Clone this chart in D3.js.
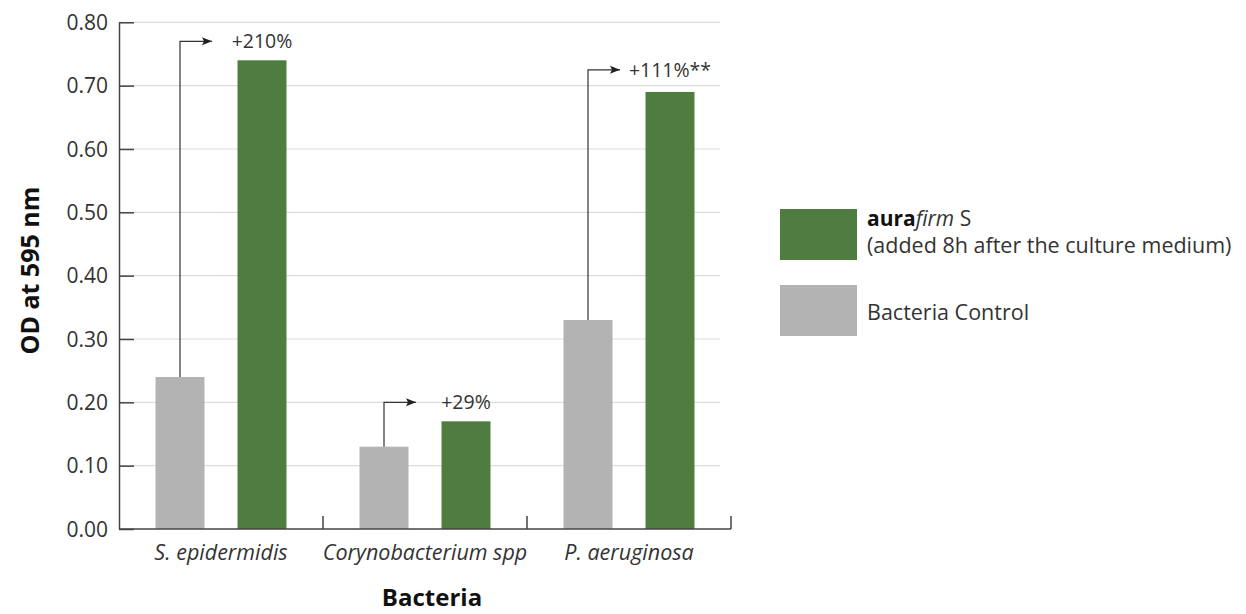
<!DOCTYPE html>
<html><head><meta charset="utf-8">
<script src="https://cdn.jsdelivr.net/npm/d3@7"></script>
<style>body{margin:0;background:#fff;} text{font-family:"Open Sans",sans-serif;}</style>
</head><body>
<svg id="c" width="1246" height="614"></svg>
<script>
const categories = ["S. epidermidis", "Corynobacterium spp", "P. aeruginosa"];
const controlValues = [0.24, 0.13, 0.33];
const aurafirmValues = [0.74, 0.17, 0.69];
const increaseLabels = ["+210%", "+29%", "+111%**"];
const arrowLevels = [0.77, 0.20, 0.725];
const yTicks = [0, 0.1, 0.2, 0.3, 0.4, 0.5, 0.6, 0.7, 0.8];

const svg = d3.select("#c");
const x0 = 119, x1 = 731, yTop = 22.3, yBot = 529;
const x = d3.scaleBand().domain(categories).range([x0, x1]).padding(0);
const y = d3.scaleLinear().domain([0, 0.8]).range([yBot, yTop]);
const green = "#4f7d3f", gray = "#b3b3b3", axisCol = "#444";

// gridlines
svg.append("g").selectAll("line").data(yTicks.filter(d => d > 0)).join("line")
  .attr("x1", x0).attr("x2", 720).attr("y1", d => y(d)).attr("y2", d => y(d))
  .attr("stroke", "#dcdcdc").attr("stroke-width", 1.2);

// y axis
const ya = svg.append("g").attr("transform", `translate(${x0},0)`)
  .call(d3.axisLeft(y).tickValues(yTicks).tickFormat(d3.format(".2f")).tickSizeInner(-15).tickSizeOuter(0).tickPadding(11));
ya.attr("font-family", null).attr("font-size", null);
ya.select(".domain").attr("stroke", axisCol).attr("stroke-width", 1.5);
ya.selectAll(".tick line").attr("stroke", axisCol).attr("stroke-width", 1.5);
ya.selectAll("text").attr("font-size", 21).attr("fill", "#333").attr("dy", "0.34em");

// bars
const off = 41, bw = 49;
svg.append("g").selectAll("rect").data(categories).join("rect")
  .attr("x", d => x(d) + x.bandwidth()/2 - off - bw/2).attr("width", bw)
  .attr("y", (d,i) => y(controlValues[i])).attr("height", (d,i) => yBot - y(controlValues[i]))
  .attr("fill", gray);
svg.append("g").selectAll("rect").data(categories).join("rect")
  .attr("x", d => x(d) + x.bandwidth()/2 + off - bw/2).attr("width", bw)
  .attr("y", (d,i) => y(aurafirmValues[i])).attr("height", (d,i) => yBot - y(aurafirmValues[i]))
  .attr("fill", green);

// x axis
const xa = svg.append("g").attr("transform", `translate(0,${yBot})`);
xa.append("line").attr("x1", x0).attr("x2", x1).attr("stroke", axisCol).attr("stroke-width", 1.5);
categories.forEach((c) => {
  const xe = x(c) + x.bandwidth();
  xa.append("line").attr("x1", xe).attr("x2", xe).attr("y1", 0).attr("y2", -13).attr("stroke", axisCol).attr("stroke-width", 1.5);
  xa.append("text").attr("x", x(c) + x.bandwidth()/2).attr("y", 31).attr("text-anchor", "middle")
    .attr("font-size", 21.5).attr("font-style", "italic").attr("fill", "#333").text(c);
});

// arrows
svg.append("defs").append("marker").attr("id", "ah").attr("viewBox", "0 0 10 10")
  .attr("refX", 10).attr("refY", 5).attr("markerWidth", 10).attr("markerHeight", 10)
  .attr("markerUnits", "userSpaceOnUse").attr("orient", "auto")
  .append("path").attr("d", "M0,1 L10,5 L0,9 L2,5 Z").attr("fill", "#222");
categories.forEach((c, i) => {
  const xs = x(c) + x.bandwidth()/2 - off;
  const ya2 = y(arrowLevels[i]);
  svg.append("path").attr("d", `M${xs},${y(controlValues[i])} V${ya2} H${xs + 32}`)
    .attr("fill", "none").attr("stroke", "#333").attr("stroke-width", 1.2).attr("marker-end", "url(#ah)");
  svg.append("text").attr("x", x(c) + x.bandwidth()/2 + off).attr("y", ya2 + 7).attr("text-anchor", "middle")
    .attr("font-size", 19.5).attr("fill", "#333").text(increaseLabels[i]);
});

// axis titles
svg.append("text").attr("transform", `translate(39,${(yTop + yBot)/2 - 5}) rotate(-90)`).attr("text-anchor", "middle")
  .attr("font-size", 25).attr("font-weight", "bold").attr("fill", "#111").text("OD at 595 nm");
svg.append("text").attr("x", 432).attr("y", 606).attr("text-anchor", "middle")
  .attr("font-size", 24).attr("font-weight", "bold").attr("fill", "#111").text("Bacteria");

// legend
const lg = svg.append("g");
lg.append("rect").attr("x", 780).attr("y", 209).attr("width", 77).attr("height", 51).attr("fill", green);
lg.append("rect").attr("x", 780).attr("y", 285).attr("width", 77).attr("height", 51).attr("fill", gray);
const t1 = lg.append("text").attr("x", 867).attr("y", 226).attr("font-size", 21).attr("fill", "#333");
t1.append("tspan").attr("font-weight", "bold").attr("fill", "#111").text("aura");
t1.append("tspan").attr("font-style", "italic").text("firm");
t1.append("tspan").text(" S");
lg.append("text").attr("x", 867).attr("y", 253).attr("font-size", 21.5).attr("fill", "#333").text("(added 8h after the culture medium)");
lg.append("text").attr("x", 867).attr("y", 320).attr("font-size", 21.5).attr("fill", "#333").text("Bacteria Control");
</script>
</body></html>
